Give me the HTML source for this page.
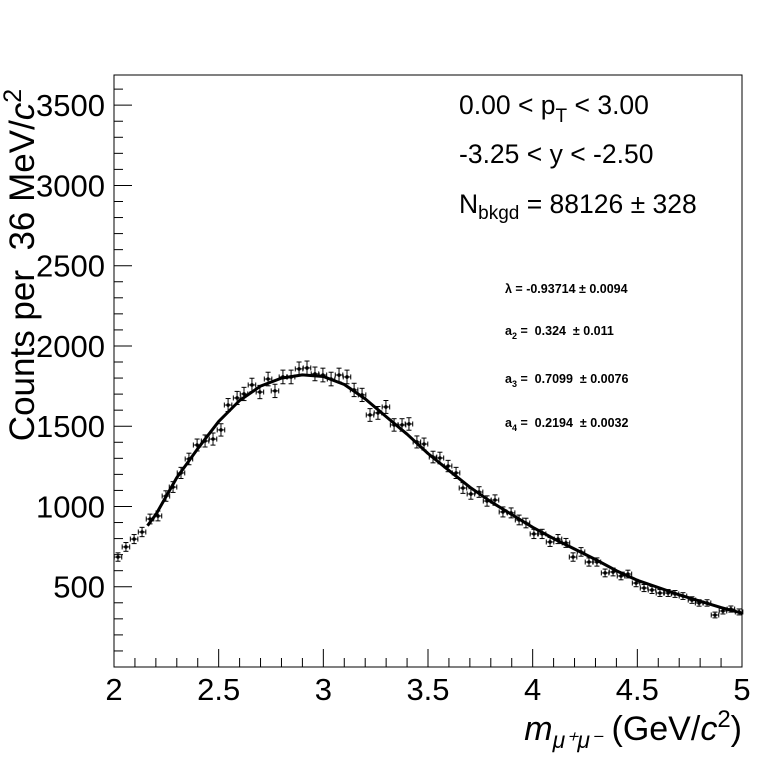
<!DOCTYPE html>
<html><head><meta charset="utf-8"><style>
html,body{margin:0;padding:0;background:#fff;}
svg{display:block;font-family:"Liberation Sans",sans-serif;}
</style></head><body>
<svg id="chart" width="765" height="758" viewBox="0 0 765 758" xmlns="http://www.w3.org/2000/svg">
<rect x="0" y="0" width="765" height="758" fill="#fff"/>
<rect x="114" y="75" width="628" height="592" fill="none" stroke="#000" stroke-width="1"/>
<g id="axes"></g>
<g id="marks"></g>
<text transform="translate(34,265) rotate(-90)" text-anchor="middle" font-size="35" xml:space="preserve">Counts per  36 MeV/<tspan font-style="italic">c</tspan><tspan dy="-13" font-size="25">2</tspan></text>
<text x="742" y="740" text-anchor="end" font-size="34"><tspan font-style="italic">m</tspan><tspan dy="8" font-size="23" font-style="italic">μ⁺μ⁻</tspan><tspan dy="-8"> (GeV/</tspan><tspan font-style="italic">c</tspan><tspan dy="-13" font-size="24">2</tspan><tspan dy="13">)</tspan></text>
<g font-size="26.5">
<text x="459" y="114">0.00 &lt; p<tspan dy="8" font-size="19">T</tspan><tspan dy="-8"> &lt; 3.00</tspan></text>
<text x="459" y="163">-3.25 &lt; y &lt; -2.50</text>
<text x="459" y="213">N<tspan dy="6" font-size="19">bkgd</tspan><tspan dy="-6"> = 88126 ± 328</tspan></text>
</g>
<g font-size="12.5" font-weight="bold">
<text x="505" y="293">λ = -0.93714 ± 0.0094</text>
<text x="505" y="335">a<tspan dy="4" font-size="9">2</tspan><tspan dy="-4" xml:space="preserve"> =  0.324  ± 0.011</tspan></text>
<text x="505" y="383">a<tspan dy="4" font-size="9">3</tspan><tspan dy="-4" xml:space="preserve"> =  0.7099  ± 0.0076</tspan></text>
<text x="505" y="427">a<tspan dy="4" font-size="9">4</tspan><tspan dy="-4" xml:space="preserve"> =  0.2194  ± 0.0032</tspan></text>
</g>
</svg>
<script>
const massBins=[2.019,2.057,2.096,2.134,2.172,2.210,2.248,2.282,2.320,2.358,2.397,2.435,2.473,2.511,2.545,2.588,2.621,2.659,2.697,2.736,2.769,2.807,2.846,2.884,2.922,2.960,2.998,3.037,3.075,3.113,3.147,3.185,3.223,3.261,3.299,3.338,3.376,3.409,3.447,3.481,3.524,3.557,3.596,3.634,3.667,3.705,3.744,3.782,3.820,3.858,3.897,3.935,3.968,4.006,4.045,4.083,4.121,4.159,4.193,4.231,4.269,4.307,4.346,4.384,4.422,4.455,4.494,4.532,4.570,4.608,4.647,4.680,4.718,4.761,4.795,4.833,4.871,4.909,4.947,4.986];
const counts=[685,748,797,841,922,941,1065,1121,1209,1296,1383,1408,1420,1477,1632,1676,1701,1757,1713,1794,1720,1807,1807,1857,1863,1826,1819,1794,1819,1807,1726,1695,1570,1583,1620,1508,1508,1514,1402,1389,1308,1302,1252,1209,1115,1078,1090,1034,1040,966,960,916,897,829,829,779,797,773,685,717,654,654,586,592,567,579,523,492,480,461,461,455,442,417,399,399,324,349,361,343];
const fitMass=[2.16,2.2,2.3,2.4,2.5,2.6,2.7,2.8,2.9,3.0,3.1,3.2,3.3,3.4,3.5,3.6,3.7,3.8,3.9,4.0,4.1,4.2,4.3,4.4,4.5,4.6,4.7,4.8,4.9,5.0];
const fitValues=[880,950,1180,1360,1530,1660,1750,1800,1820,1810,1760,1670,1560,1450,1330,1225,1120,1030,950,870,800,735,670,600,540,495,450,410,370,335];
const xTicks=["2","2.5","3","3.5","4","4.5","5"];
const yTicks=["500","1000","1500","2000","2500","3000","3500"];

const NS="http://www.w3.org/2000/svg";
const X0=114,X1=742,Y0=667,Y1=75,XMIN=2,XMAX=5,YMIN=0,YMAX=3688;
const sx=v=>X0+(v-XMIN)/(XMAX-XMIN)*(X1-X0);
const sy=v=>Y0-(v-YMIN)/(YMAX-YMIN)*(Y0-Y1);
function mk(tag,attrs,parent){const e=document.createElementNS(NS,tag);for(const k in attrs)e.setAttribute(k,attrs[k]);parent.appendChild(e);return e;}
const axes=document.getElementById('axes');
const marks=document.getElementById('marks');

for(let v=100;v<=3600;v+=100){
  const major=v%500===0;
  const t=mk('line',{x1:X0,x2:X0+(major?18:9),y1:sy(v),y2:sy(v),stroke:'#000','stroke-width':1},axes);
  
  
}
yTicks.forEach(s=>{
  const t=mk('text',{x:105,y:sy(+s)+11,'text-anchor':'end','font-size':31},axes);
  t.textContent=s;
  
  
});
for(let i=0;i<=30;i++){
  const v=2+i*0.1;const major=i%5===0;
  const t=mk('line',{x1:sx(v),x2:sx(v),y1:Y0,y2:Y0-(major?18:9),stroke:'#000','stroke-width':1},axes);
  
  
}
xTicks.forEach(s=>{
  const t=mk('text',{x:sx(+s),y:700,'text-anchor':'middle','font-size':31},axes);
  t.textContent=s;
  
  
});
let d='';
fitMass.forEach((m,i)=>{d+=(i?'L':'M')+sx(m).toFixed(1)+','+sy(fitValues[i]).toFixed(1);});
const curve=mk('path',{d:d,fill:'none',stroke:'#000','stroke-width':3,'stroke-linejoin':'round'},marks);


const hw=0.018;
massBins.forEach((m,i)=>{
  const c=counts[i],e=Math.sqrt(c);
  const g=mk('g',{stroke:'#000','stroke-width':1,fill:'#000'},marks);
  
  
  const x=sx(m),y=sy(c),yt=sy(c+e),yb=sy(c-e),xl=sx(m-hw),xr=sx(m+hw);
  mk('line',{x1:x,x2:x,y1:yt,y2:yb},g);
  mk('line',{x1:xl,x2:xr,y1:y,y2:y},g);
  mk('line',{x1:x-2.5,x2:x+2.5,y1:yt,y2:yt},g);
  mk('line',{x1:x-2.5,x2:x+2.5,y1:yb,y2:yb},g);
  mk('line',{x1:xl,x2:xl,y1:y-2.5,y2:y+2.5},g);
  mk('line',{x1:xr,x2:xr,y1:y-2.5,y2:y+2.5},g);
  mk('circle',{cx:x,cy:y,r:1.8,stroke:'none'},g);
});
</script>
</body></html>
